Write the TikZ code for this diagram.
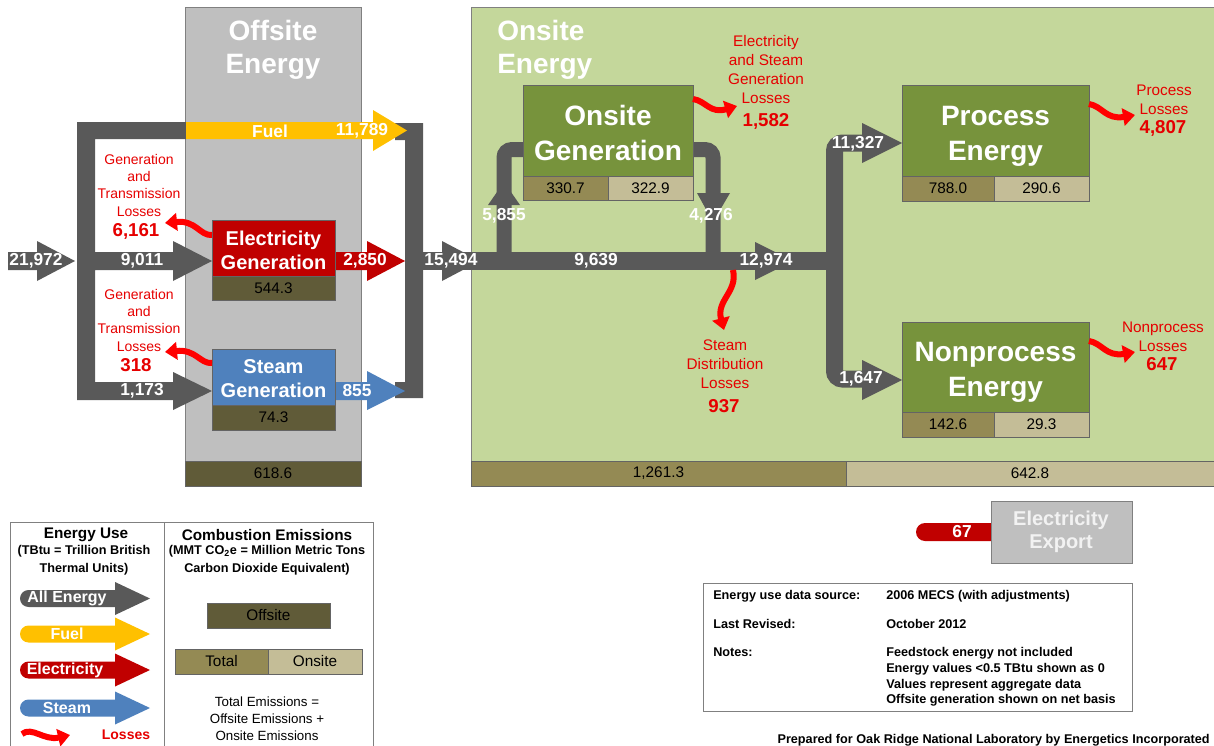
\documentclass[tikz,border=0pt]{standalone}
\usepackage{fontspec}
\setmainfont{Liberation Sans}
\usetikzlibrary{arrows.meta}

\definecolor{flowgray}{RGB}{89,89,89}
\definecolor{fuelyellow}{RGB}{255,192,0}
\definecolor{elecred}{RGB}{192,0,0}
\definecolor{steamblue}{RGB}{79,129,189}
\definecolor{boxgreen}{RGB}{119,147,60}
\definecolor{onsitebg}{RGB}{196,215,155}
\definecolor{offsitebg}{RGB}{191,191,191}
\definecolor{emisdark}{RGB}{96,91,56}
\definecolor{emistotal}{RGB}{148,138,84}
\definecolor{emisonsite}{RGB}{196,189,151}
\definecolor{lossred}{RGB}{255,0,0}
\definecolor{losstext}{RGB}{230,0,0}
\definecolor{rimgray}{RGB}{100,100,100}
\definecolor{exporttext}{RGB}{242,242,242}

\tikzset{
  rim/.style={draw=rimgray,line width=0.75pt},
  num/.style={inner sep=0pt,text=white,font=\fontsize{13}{15}\selectfont\bfseries},
  emis/.style={inner sep=0pt,font=\fontsize{11.5}{13}\selectfont},
  titletext/.style={inner sep=0pt,text=white,font=\fontsize{21}{24.75}\selectfont\bfseries},
  boxtext/.style={inner sep=0pt,align=center,text=white,font=\fontsize{21}{26.25}\selectfont\bfseries},
  gentext/.style={inner sep=0pt,align=center,text=white,font=\fontsize{15}{18}\selectfont\bfseries},
  losstxt/.style={inner sep=0pt,align=center,text=losstext,font=\fontsize{10.5}{13}\selectfont},
  lossbig/.style={inner sep=0pt,align=center,text=losstext,font=\fontsize{11.5}{14.25}\selectfont},
  lossval/.style={inner sep=0pt,text=losstext,font=\fontsize{14}{16}\selectfont\bfseries},
  loss/.style={draw=lossred,line width=4.5pt,-{Triangle[length=9pt,width=13pt]}},
  note/.style={inner sep=0pt,align=left,font=\fontsize{9.5}{11.75}\selectfont\bfseries},
  legendhead/.style={inner sep=0pt,align=center,font=\fontsize{11.5}{14}\selectfont\bfseries},
  legendsub/.style={inner sep=0pt,align=center,font=\fontsize{9.5}{13.5}\selectfont\bfseries},
}

\begin{document}
\begin{tikzpicture}[x=0.75pt,y=0.75pt,yscale=-1,xscale=1]
\useasboundingbox (0,0) rectangle (1214,746);

%Shape: Rectangle offsite column
\draw [rim,draw=gray,fill=offsitebg] (185,7) rectangle (361,461) ;
\draw [rim,fill=emisdark] (185,461) rectangle (361,486) ;
%Shape: Rectangle onsite area
\draw [rim,draw=gray,fill=onsitebg] (471,7) rectangle (1214,461) ;
\draw [rim,fill=emistotal] (471,461) rectangle (846,486) ;
\draw [rim,fill=emisonsite] (846,461) rectangle (1214,486) ;

%Flow: input and left frame
\fill [flowgray] (8,252) -- (37,252) -- (37,241) -- (75,261) -- (37,281) -- (37,270) -- (8,270) -- cycle ;
\fill [flowgray] (77,122) -- (186,122) -- (186,139) -- (95,139) -- (95,252) -- (173,252) -- (173,241) -- (212,261) -- (173,281) -- (173,270) -- (95,270) -- (95,382) -- (173,382) -- (173,372) -- (212,391) -- (173,410) -- (173,400) -- (77,400) -- cycle ;
%Flow: collector
\fill [flowgray] (395,123) -- (423,123) -- (423,398) -- (395,398) -- (395,382) -- (405,382) -- (405,140) -- (395,140) -- cycle ;
%Flow: main line
\fill [flowgray] (423,252) rectangle (835,270) ;
\fill [flowgray] (442,241) -- (480,261) -- (442,281) -- cycle ;
\fill [flowgray] (755,242) -- (793,261) -- (755,280) -- cycle ;
%Flow: onsite generation loop
\draw [flowgray,line width=11.25pt,rounded corners=6pt] (504,262) -- (504,149.5) -- (525,149.5) ;
\draw [flowgray,line width=11.25pt,rounded corners=6pt] (691,149.5) -- (713,149.5) -- (713,262) ;
\fill [flowgray] (488,205) -- (504,182) -- (520,205) -- cycle ;
\fill [flowgray] (697,193) -- (713,222) -- (730,193) -- cycle ;
%Flow: split to end uses
\draw [flowgray,line width=12.75pt,rounded corners=6pt] (866,143) -- (834.5,143) -- (834.5,379) -- (866,379) ;
\fill [flowgray] (862,123) -- (902,143) -- (862,163) -- cycle ;
\fill [flowgray] (862,360) -- (902,380) -- (862,400) -- cycle ;

%Flow: fuel, electricity, steam
\fill [fuelyellow] (186,122) -- (373,122) -- (373,110) -- (407,130.5) -- (373,151) -- (373,139) -- (186,139) -- cycle ;
\fill [elecred] (335,252) -- (367,252) -- (367,241) -- (405,261) -- (367,281) -- (367,270) -- (335,270) -- cycle ;
\fill [steamblue] (335,382) -- (367,382) -- (367,371) -- (405,391) -- (367,410) -- (367,400) -- (335,400) -- cycle ;

%Shape: Rectangle generation boxes
\draw [rim,fill=elecred] (212,220) rectangle (335,276) ;
\draw [rim,fill=emisdark] (212,276) rectangle (335,300) ;
\draw [rim,fill=steamblue] (212,349) rectangle (335,405) ;
\draw [rim,fill=emisdark] (212,405) rectangle (335,430) ;
\draw [rim,fill=boxgreen] (523,85) rectangle (693,176) ;
\draw [rim,fill=emistotal] (523,176) rectangle (608,200) ;
\draw [rim,fill=emisonsite] (608,176) rectangle (693,200) ;
%Shape: Rectangle end use boxes
\draw [rim,fill=boxgreen] (902,85) rectangle (1089,176) ;
\draw [rim,fill=emistotal] (902,176) rectangle (994,201) ;
\draw [rim,fill=emisonsite] (994,176) rectangle (1089,201) ;
\draw [rim,fill=boxgreen] (902,322) rectangle (1089,412) ;
\draw [rim,fill=emistotal] (902,412) rectangle (994,437) ;
\draw [rim,fill=emisonsite] (994,412) rectangle (1089,437) ;

%Curve Lines losses
\draw [loss] (212,235) .. controls (200,236) and (196,220) .. (165,223) ;
\draw [loss] (212,363) .. controls (200,364) and (196,349) .. (165,352) ;
\draw [loss] (693,99) .. controls (706,101) and (710,114) .. (737,106) ;
\draw [loss] (733,270) .. controls (738,292) and (716,300) .. (724,330) ;
\draw [loss] (1089,104) .. controls (1102,106) and (1106,120) .. (1135,115) ;
\draw [loss] (1089,341) .. controls (1102,343) and (1106,357) .. (1135,352) ;

% Text Node titles
\node [titletext,align=center] (offtitle) at (273,49.5) {Offsite\\Energy};
\node [titletext,align=left,anchor=west] (ontitle) at (497,49.5) {Onsite\\Energy};
% Text Node boxes
\node [gentext] (elecgen) at (273.5,250) {Electricity\\Generation};
\node [gentext] (steamgen) at (273.5,379) {Steam\\Generation};
\node [boxtext] (onsitegen) at (608,132.5) {Onsite\\Generation};
\node [boxtext] (process) at (995.5,136.5) {Process\\Energy};
\node [boxtext] (nonprocess) at (995.5,372.5) {Nonprocess\\Energy};
% Text Node flow values
\node [num] (vin) at (36,261) {21,972};
\node [num] (vfuel) at (270,131) {Fuel};
\node [num] (vfuelnum) at (362,131) {11,789};
\node [num] (velecin) at (142,261) {9,011};
\node [num] (vsteamin) at (142,391) {1,173};
\node [num] (velecout) at (365,261) {2,850};
\node [num] (vsteamout) at (357,391) {855};
\node [num] (vonsite) at (451,261) {15,494};
\node [num] (vdirect) at (596,261) {9,639};
\node [num] (vgenin) at (504,216) {5,855};
\node [num] (vgenout) at (711,216) {4,276};
\node [num] (vuse) at (766,261) {12,974};
\node [num] (vprocess) at (858,144) {11,327};
\node [num] (vnonprocess) at (861,379) {1,647};
% Text Node emissions
\node [emis] (eelec) at (273.5,288) {544.3};
\node [emis] (esteam) at (273.5,417.5) {74.3};
\node [emis] (eoffsite) at (273,473.5) {618.6};
\node [emis] (etotal) at (658.5,473.5) {1,261.3};
\node [emis] (eonsite) at (1030,473.5) {642.8};
\node [emis] (egentot) at (565.5,188) {330.7};
\node [emis] (egenon) at (650.5,188) {322.9};
\node [emis] (eproctot) at (948,188.5) {788.0};
\node [emis] (eprocon) at (1041.5,188.5) {290.6};
\node [emis] (enontot) at (948,424.5) {142.6};
\node [emis] (enonon) at (1041.5,424.5) {29.3};
% Text Node losses
\node [losstxt] (leleclbl) at (139,185) {Generation\\and\\Transmission\\Losses};
\node [lossval] (lelec) at (136,231) {6,161};
\node [losstxt] (lsteamlbl) at (139,320) {Generation\\and\\Transmission\\Losses};
\node [lossval] (lsteam) at (136,365) {318};
\node [lossbig] (lgenlbl) at (766,69.5) {Electricity\\and Steam\\Generation\\Losses};
\node [lossval] (lgen) at (766,121) {1,582};
\node [lossbig] (ldistlbl) at (725,364) {Steam\\Distribution\\Losses};
\node [lossval] (ldist) at (724,406) {937};
\node [lossbig] (lproclbl) at (1164,99.5) {Process\\Losses};
\node [lossval] (lproc) at (1163,128) {4,807};
\node [lossbig] (lnonlbl) at (1163,336.5) {Nonprocess\\Losses};
\node [lossval] (lnon) at (1162,364) {647};

%Shape: electricity export
\fill [elecred,rounded corners=6.75pt] (916,523) rectangle (1000,541) ;
\draw [rim,draw=gray,fill=offsitebg] (991,501) rectangle (1132,563) ;
\node [num] (vexport) at (962,532) {67};
\node [gentext,text=exporttext,font=\fontsize{15}{17.25}\selectfont\bfseries] (export) at (1061,531.5) {Electricity\\Export};

%Shape: notes box
\draw [rim,draw=gray] (703,583) rectangle (1132,711) ;
\node [note,anchor=west] (srclbl) at (713,596) {Energy use data source:};
\node [note,anchor=west] (src) at (886,596) {2006 MECS (with adjustments)};
\node [note,anchor=west] (revlbl) at (713,624) {Last Revised:};
\node [note,anchor=west] (rev) at (886,624) {October 2012};
\node [note,anchor=west] (noteslbl) at (713,652) {Notes:};
\node [note,anchor=west] (notes) at (886,677) {Feedstock energy not included\\Energy values <0.5 TBtu shown as 0\\Values represent aggregate data\\Offsite generation shown on net basis};
\node [note,anchor=east,font=\fontsize{9.5}{11}\selectfont\bfseries] (prepared) at (1210,740) {Prepared for Oak Ridge National Laboratory by Energetics Incorporated};

%Shape: legend
\draw [rim,draw=gray] (10,746) -- (10,522) -- (373,522) -- (373,746) ;
\draw [rim,draw=gray] (164,522) -- (164,746) ;
\node [legendhead] (usehead) at (86,535) {Energy Use};
\node [legendsub] (usesub) at (84,560) {(TBtu = Trillion British\\Thermal Units)};
\node [legendhead] (emishead) at (267,535) {Combustion Emissions};
\node [legendsub] (emissub) at (267,560) {(MMT CO\textsubscript{2}e = Million Metric Tons\\Carbon Dioxide Equivalent)};
\fill [flowgray,rounded corners=6.4pt] (20,590) rectangle (125,607) ;
\fill [flowgray] (115,582) -- (150,598.5) -- (115,615) -- cycle ;
\fill [fuelyellow,rounded corners=6.4pt] (20,625.5) rectangle (125,642.5) ;
\fill [fuelyellow] (115,617.5) -- (150,634) -- (115,650.5) -- cycle ;
\fill [elecred,rounded corners=6.4pt] (20,661.5) rectangle (125,678.5) ;
\fill [elecred] (115,653.5) -- (150,670) -- (115,686.5) -- cycle ;
\fill [steamblue,rounded corners=6.4pt] (20,699.5) rectangle (125,716.5) ;
\fill [steamblue] (115,691.5) -- (150,708) -- (115,724.5) -- cycle ;
\draw [loss] (22,734) .. controls (32,726) and (44,741) .. (70,735) ;
\node [num,font=\fontsize{12}{14}\selectfont\bfseries] (kall) at (67,598.5) {All Energy};
\node [num,font=\fontsize{12}{14}\selectfont\bfseries] (kfuel) at (67,634) {Fuel};
\node [num,font=\fontsize{12}{14}\selectfont\bfseries] (kelec) at (65,670) {Electricity};
\node [num,font=\fontsize{12}{14}\selectfont\bfseries] (ksteam) at (67,708) {Steam};
\node [lossval,font=\fontsize{10.5}{12}\selectfont\bfseries] (kloss) at (126,735) {Losses};
\draw [rim,fill=emisdark] (207,603) rectangle (330,628) ;
\node [emis] (koff) at (268.5,615.5) {Offsite};
\draw [rim,fill=emistotal] (175,649) rectangle (268,674) ;
\draw [rim,fill=emisonsite] (268,649) rectangle (362,674) ;
\node [emis] (ktot) at (221.5,661.5) {Total};
\node [emis] (kon) at (315,661.5) {Onsite};
\node [inner sep=0pt,align=center,font=\fontsize{10}{12.75}\selectfont] (keq) at (267,719) {Total Emissions =\\Offsite Emissions +\\Onsite Emissions};

\end{tikzpicture}
\end{document}
